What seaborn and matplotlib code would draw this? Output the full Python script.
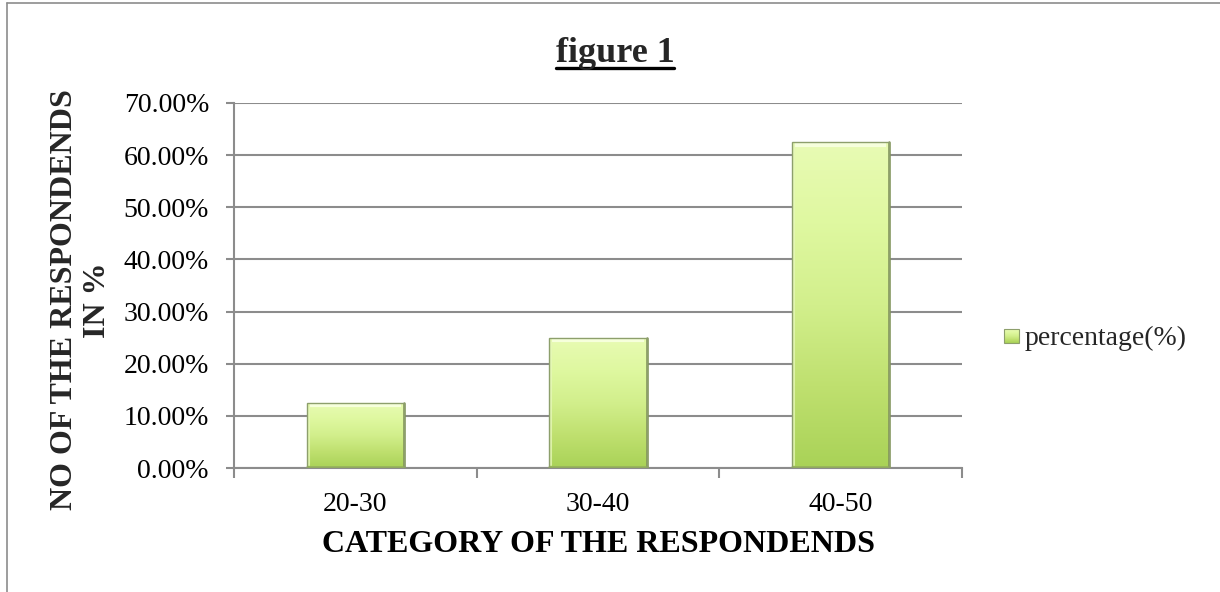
import numpy as np
import pandas as pd
import matplotlib
matplotlib.use("Agg")
import matplotlib.pyplot as plt
import seaborn as sns
from matplotlib.colors import LinearSegmentedColormap
from matplotlib.lines import Line2D
from matplotlib.patches import Rectangle
from matplotlib.ticker import PercentFormatter, FixedLocator

# Survey results
categories = ["20-30", "30-40", "40-50"]
percentages = [0.125, 0.25, 0.625]
y_ticks = [0.0, 0.1, 0.2, 0.3, 0.4, 0.5, 0.6, 0.7]
series_name = "percentage(%)"

df = pd.DataFrame({"category": categories, "value": percentages})

sns.set_theme(style="white")
plt.rcParams["font.family"] = ["Liberation Serif", "DejaVu Serif"]

W, H = 1220, 592
fig = plt.figure(figsize=(W / 100, H / 100), dpi=100)
ax = fig.add_axes([234 / W, 1 - 468 / H, (962 - 234) / W, (468 - 103) / H])

sns.barplot(data=df, x="category", y="value", ax=ax, color="#c4e479",
            width=0.4, saturation=1, edgecolor="#8d9f6c", linewidth=1.0,
            zorder=3)

# vertical gradient fill with a soft bevel on each bar
grad_cmap = LinearSegmentedColormap.from_list(
    "bar_grad", ["#a9d257", "#bfe06f", "#d2ef8c", "#dff8a0", "#e8fbb4"])
for patch in ax.patches:
    x0, y0 = patch.get_x(), patch.get_y()
    w, h = patch.get_width(), patch.get_height()
    grad = np.linspace(0, 1, 256).reshape(-1, 1)
    im = ax.imshow(grad, cmap=grad_cmap, aspect="auto", origin="lower",
                   extent=[x0, x0 + w, y0, y0 + h], zorder=3.5,
                   interpolation="bicubic")
    im.set_clip_path(patch)
    # bright rim along the top and left edges
    ax.plot([x0 + w * 0.03, x0 + w * 0.97], [y0 + h - 0.005, y0 + h - 0.005],
            color="#f6ffdc", lw=3.0, zorder=3.8, solid_capstyle="butt")
    ax.plot([x0 + w * 0.02, x0 + w * 0.02], [y0 + 0.005, y0 + h - 0.008],
            color="#e6f8b8", lw=1.5, zorder=3.8, alpha=0.8)
    # darker rim down the right side and along the bottom
    ax.plot([x0 + w, x0 + w], [y0, y0 + h], color="#7f9157", lw=1.8, zorder=3.9)
    ax.plot([x0, x0 + w], [y0 + 0.002, y0 + 0.002], color="#93ad5c", lw=1.8,
            zorder=3.9)
    patch.set_facecolor("none")
    patch.set_zorder(4)

ax.set_xlim(-0.5, len(categories) - 0.5)
ax.set_ylim(0, 0.7)
ax.set_yticks(y_ticks)
ax.yaxis.set_major_formatter(PercentFormatter(xmax=1, decimals=2))
ax.yaxis.grid(True, color="#8c8c8c", linewidth=1.5, zorder=0)
ax.xaxis.grid(False)
ax.set_axisbelow(True)

for side in ["top", "right"]:
    ax.spines[side].set_visible(False)
for side in ["left", "bottom"]:
    ax.spines[side].set_color("#8c8c8c")
    ax.spines[side].set_linewidth(1.5)

ax.tick_params(axis="y", which="major", left=True, length=6, width=1.5,
               color="#8c8c8c", labelsize=20, pad=12, labelcolor="black")
ax.tick_params(axis="x", which="major", bottom=False, length=0,
               labelsize=20, pad=17, labelcolor="black")
ax.xaxis.set_minor_locator(FixedLocator(np.arange(-0.5, len(categories), 1.0)))
ax.tick_params(axis="x", which="minor", bottom=True, length=7, width=1.5,
               color="#8c8c8c")

ax.set_xlabel("CATEGORY OF THE RESPONDENDS", fontsize=23, fontweight="bold",
              color="black")
ax.xaxis.label.set_va("center")
ax.xaxis.set_label_coords(0.5, -(544 - 468) / (468 - 103))
ax.set_ylabel("")

fig.text(81 / W, 1 - 300 / H, "NO OF THE RESPONDENDS\nIN %", rotation=90,
         fontsize=23, fontweight="bold", ha="center", va="center",
         multialignment="center", linespacing=1.15)

title = fig.text(615 / W, 1 - 62 / H, "figure 1", fontsize=26,
                 fontweight="bold", ha="center", va="baseline")

# underline beneath the title
fig.canvas.draw()
bb = title.get_window_extent()
inv = fig.transFigure.inverted()
(tx0, _), (tx1, _) = inv.transform([[bb.x0, bb.y0], [bb.x1, bb.y1]])
fig.add_artist(Line2D([tx0, tx1], [1 - 68 / H, 1 - 68 / H],
                      transform=fig.transFigure, color="black", lw=2.4))

# legend: gradient swatch and label
sw_x, sw_y, sw_w, sw_h = 1004 / W, 1 - 343 / H, 15 / W, 14 / H
lax = fig.add_axes([sw_x, sw_y, sw_w, sw_h])
lax.imshow(np.linspace(0, 1, 64).reshape(-1, 1), cmap=grad_cmap,
           aspect="auto", origin="lower")
lax.axis("off")
fig.add_artist(Rectangle((sw_x, sw_y), sw_w, sw_h, transform=fig.transFigure,
                         facecolor="none", edgecolor="#8d9f6c", lw=0.8))
fig.text(1025 / W, 1 - 338 / H, series_name, fontsize=20, ha="left",
         va="center")

# outer chart frame
fig.add_artist(Line2D([7 / W, 7 / W], [0, 1 - 3 / H], transform=fig.transFigure,
                      color="#8c8c8c", lw=1.2))
fig.add_artist(Line2D([7 / W, 1.0], [1 - 3 / H, 1 - 3 / H],
                      transform=fig.transFigure, color="#8c8c8c", lw=1.2))

fig.savefig("out.png", dpi=100)
